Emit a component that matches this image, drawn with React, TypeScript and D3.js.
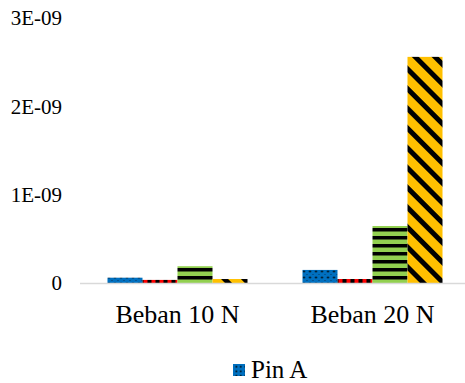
import React from "react";
import * as d3 from "d3";

const categories = ["Beban 10 N", "Beban 20 N"];
const seriesNames = ["Pin A", "Pin B", "Pin C", "Pin D"];
const pinA = [0.06e-9, 0.148e-9];
const pinB = [0.035e-9, 0.045e-9];
const pinC = [0.19e-9, 0.645e-9];
const pinD = [0.045e-9, 2.56e-9];
const yTicks = [0, 1e-9, 2e-9, 3e-9];
const yTickLabels = ["0", "1E-09", "2E-09", "3E-09"];

const W = 465;
const H = 383;
const margin = { left: 80, right: 0, top: 18, bottom: 100 };
const font = "Times New Roman";

export default function App() {
  const series = [pinA, pinB, pinC, pinD];
  const x0 = d3
    .scaleBand<string>()
    .domain(categories)
    .range([margin.left, 470])
    .paddingInner(0.282)
    .paddingOuter(0.141);
  const x1 = d3
    .scaleBand<string>()
    .domain(seriesNames)
    .range([0, x0.bandwidth()])
    .padding(0);
  const y = d3
    .scaleLinear()
    .domain([0, 3e-9])
    .range([H - margin.bottom, margin.top]);

  const fills = ["url(#pA)", "url(#pB)", "url(#pC)", "url(#pD)"];

  return (
    <svg
      width={W}
      height={H}
      fontFamily={font}
      style={{ position: "absolute", left: 0, top: 0, background: "#fff" }}
    >
      <defs>
        <pattern id="pA" width={6} height={6} patternUnits="userSpaceOnUse">
          <rect width={6} height={6} fill="#0070C0" />
          <circle cx={1.5} cy={1.5} r={1} fill="#000" />
          <circle cx={4.5} cy={4.5} r={0.6} fill="#0a2f55" />
        </pattern>
        <pattern id="pL" width={4.5} height={4.5} patternUnits="userSpaceOnUse">
          <rect width={4.5} height={4.5} fill="#0070C0" />
          <rect x={1.5} y={1.5} width={1.6} height={1.6} fill="#000" />
        </pattern>
        <pattern id="pB" width={8} height={8} patternUnits="userSpaceOnUse">
          <rect width={8} height={8} fill="#FF0000" />
          <rect x={0} y={0} width={4} height={8} fill="#000" />
        </pattern>
        <pattern id="pC" width={8} height={8} patternUnits="userSpaceOnUse">
          <rect width={8} height={8} fill="#92D050" />
          <rect x={0} y={4} width={8} height={3.5} fill="#000" />
        </pattern>
        <pattern
          id="pD"
          width={14}
          height={14}
          patternUnits="userSpaceOnUse"
          patternTransform="rotate(45)"
        >
          <rect width={14} height={14} fill="#FFC000" />
          <rect x={0} y={0} width={14} height={5} fill="#000" />
        </pattern>
      </defs>

      {/* y-axis tick labels */}
      {yTicks.map((t, i) => (
        <text
          key={t}
          x={62}
          y={y(t)}
          dy="0.35em"
          textAnchor="end"
          fontFamily={font}
          fontSize={21}
          fill="#000"
        >
          {yTickLabels[i]}
        </text>
      ))}

      {/* bars */}
      {categories.map((c, ci) => (
        <g key={c} transform={`translate(${x0(c)},0)`}>
          {seriesNames.map((s, si) => {
            const v = series[si][ci];
            return (
              <rect
                key={s}
                x={x1(s)}
                y={y(v)}
                width={x1.bandwidth()}
                height={y(0) - y(v)}
                fill={fills[si]}
              />
            );
          })}
        </g>
      ))}

      {/* baseline */}
      <line
        x1={margin.left}
        x2={W}
        y1={y(0) + 0.5}
        y2={y(0) + 0.5}
        stroke="#d9d9d9"
        strokeWidth={1.5}
      />

      {/* category labels */}
      {categories.map((c) => (
        <text
          key={c}
          x={(x0(c) ?? 0) + x0.bandwidth() / 2}
          y={323}
          textAnchor="middle"
          fontFamily={font}
          fontSize={26}
          fill="#000"
        >
          {c}
        </text>
      ))}

      {/* legend */}
      <rect x={233} y={364} width={12} height={12} fill="url(#pL)" />
      <text x={251} y={378} fontFamily={font} fontSize={25} fill="#000">
        {seriesNames[0]}
      </text>
    </svg>
  );
}
